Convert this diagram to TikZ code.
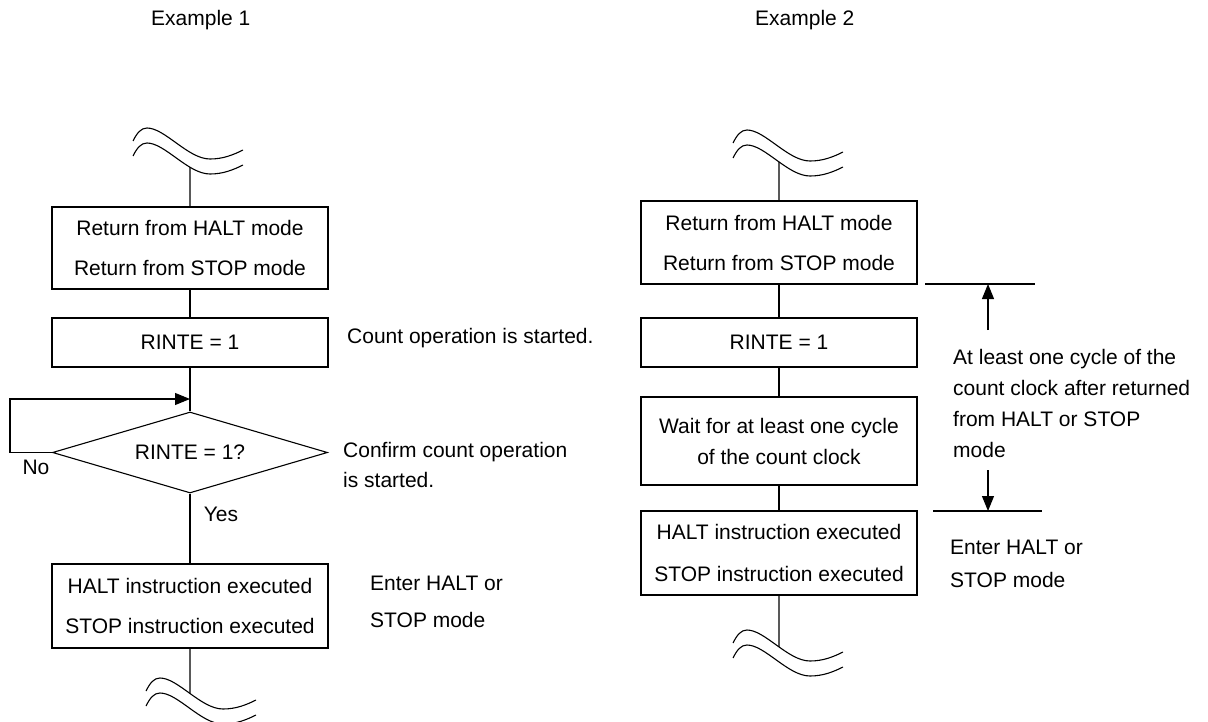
\documentclass[tikz,border=0pt]{standalone}
\usepackage{fontspec}
\setmainfont{Liberation Sans}
\usetikzlibrary{shapes.geometric,arrows.meta,intersections}
\tikzset{
  ln/.style={line width=1.1pt},
  box/.style={draw, ln, minimum width=276pt, inner sep=0pt, align=center, font=\fontsize{21}{40}\selectfont},
  boxtight/.style={box, font=\fontsize{21}{31}\selectfont},
  dec/.style={draw, ln, shape=diamond, aspect=3.4, inner sep=0pt, minimum width=275pt, minimum height=81pt, font=\fontsize{21}{25}\selectfont},
  note/.style={anchor=west, inner sep=0pt, align=left, font=\fontsize{21}{31}\selectfont},
  title/.style={anchor=west, inner sep=0pt, font=\fontsize{21}{25}\selectfont},
  arr/.style={ln, -{Triangle[length=15pt,width=12pt]}},
}
\newcommand\brkwave[3]{%
  \draw[ln, shift={(#1,#2)}, name path=#3u] (0,0) .. controls (4,-8) and (8,-13) .. (14,-13) .. controls (32,-13) and (55,18) .. (77,18) .. controls (90,18) and (100,14) .. (110,9);
  \draw[ln, shift={(#1,#2+15)}, name path=#3l] (0,0) .. controls (4,-8) and (8,-13) .. (14,-13) .. controls (32,-13) and (55,18) .. (77,18) .. controls (90,18) and (100,14) .. (110,9);
}
\begin{document}
\begin{tikzpicture}[x=1pt,y=-1pt]
\useasboundingbox (0,0) rectangle (1208,722);

% titles
\node[title] (t1) at (151,20) {Example 1};
\node[title] (t2) at (755,20) {Example 2};

% ---------- Example 1 ----------
\brkwave{133}{141}{wa}
\node[box, minimum height=82pt] (b1) at (190,248) {Return from HALT mode\\Return from STOP mode};
\node[box, minimum height=49pt] (b2) at (190,342.5) {RINTE = 1};
\node[dec] (d) at (190,452.5) {RINTE = 1?};
\node[box, minimum height=84pt] (b3) at (190,606) {HALT instruction executed\\STOP instruction executed};
\brkwave{146}{691}{wb}

\path[name path=v1] (190,100) -- (190,207);
\path[name intersections={of=v1 and wal, by=w1}];
\draw[ln] (w1) -- (b1.north);
\draw[ln] (b1.south) -- (b2.north);
\draw[ln] (b2.south) -- (d.north);
\draw[ln] (d.south) -- (b3.north);
\path[name path=v2] (190,648) -- (190,722);
\path[name intersections={of=v2 and wbu, by=w2}];
\draw[ln] (b3.south) -- (w2);

\coordinate (lc) at (10,399);
\coordinate (jn) at (190,399);
\draw[arr] (d.west) -| (lc) -- (jn);

\node[note, anchor=center] (no) at (36,467) {No};
\node[note, anchor=center] (yes) at (221,514) {Yes};

\node[note] (n1) at (347,338) {Count operation is started.};
\node[note, font=\fontsize{21}{30}\selectfont] (n2) at (343,464.5) {Confirm count operation\\is started.};
\node[note, font=\fontsize{21}{37}\selectfont] (n3) at (370,601.5) {Enter HALT or\\STOP mode};

% ---------- Example 2 ----------
\brkwave{733}{143}{wc}
\node[box, minimum height=83pt] (r1) at (779,242.5) {Return from HALT mode\\Return from STOP mode};
\node[box, minimum height=49pt] (r2) at (779,342.5) {RINTE = 1};
\node[boxtight, minimum height=88pt] (r3) at (779,441) {Wait for at least one cycle\\of the count clock};
\node[box, font=\fontsize{21}{42}\selectfont, minimum height=84pt] (r4) at (779,553) {HALT instruction executed\\STOP instruction executed};
\brkwave{733}{643}{wd}

\path[name path=v3] (779,100) -- (779,201);
\path[name intersections={of=v3 and wcl, by=w3}];
\draw[ln] (w3) -- (r1.north);
\draw[ln] (r1.south) -- (r2.north);
\draw[ln] (r2.south) -- (r3.north);
\draw[ln] (r3.south) -- (r4.north);
\path[name path=v4] (779,595) -- (779,722);
\path[name intersections={of=v4 and wdu, by=w4}];
\draw[ln] (r4.south) -- (w4);

% dimension marks
\coordinate (ua) at (925,284);
\coordinate (ub) at (1035,284);
\coordinate (la) at (933,511);
\coordinate (lb) at (1042,511);
\coordinate (as) at (988,330);
\coordinate (at) at (988,284);
\coordinate (ds) at (988,470);
\coordinate (dt) at (988,511);
\draw[ln] (ua) -- (ub);
\draw[ln] (la) -- (lb);
\draw[arr] (as) -- (at);
\draw[arr] (ds) -- (dt);

\node[note] (n4) at (953,403.5) {At least one cycle of the\\count clock after returned\\from HALT or STOP\\mode};
\node[note, font=\fontsize{21}{33}\selectfont] (n5) at (950,564) {Enter HALT or\\STOP mode};
\end{tikzpicture}
\end{document}
